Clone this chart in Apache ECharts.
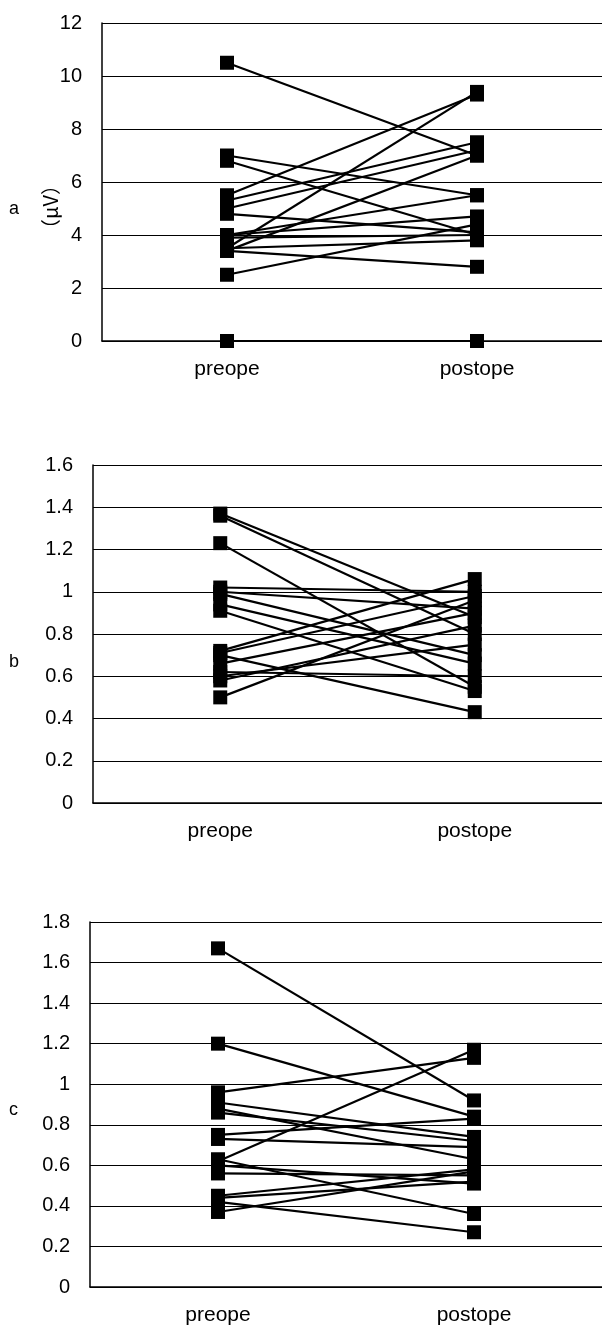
<!DOCTYPE html>
<html>
<head>
<meta charset="utf-8">
<script src="https://cdn.jsdelivr.net/npm/echarts@6/dist/echarts.min.js"></script>
<style>
  html, body { margin: 0; padding: 0; background: #fff; }
  #chart { width: 602px; height: 1337px; }
</style>
</head>
<body>
<div id="chart"></div>
<script>
const categories = ['preope', 'postope']

// panel a (μV)
const preA  = [10.5, 7.0, 6.8, 5.5, 5.3, 5.0, 4.8, 4.0, 4.0, 3.9, 3.5, 3.4, 3.5, 3.4, 2.5, 0]
const postA = [7.0, 5.5, 4.0, 9.3, 7.5, 7.2, 4.1, 4.7, 5.5, 4.0, 9.4, 7.0, 3.8, 2.8, 4.4, 0]

// panel b
const preB  = [1.37, 1.36, 1.23, 1.02, 1.00, 0.99, 0.94, 0.91, 0.72, 0.71, 0.70, 0.66, 0.62, 0.60, 0.58, 0.50]
const postB = [0.88, 0.80, 0.55, 1.00, 0.92, 0.70, 0.66, 0.53, 1.06, 0.98, 0.43, 0.90, 0.60, 0.75, 0.84, 0.96]

// panel c
const preC  = [1.67, 1.20, 0.96, 0.91, 0.88, 0.86, 0.75, 0.73, 0.62, 0.63, 0.60, 0.56, 0.45, 0.37, 0.42, 0.44]
const postC = [0.92, 0.84, 1.13, 0.74, 0.63, 0.72, 0.83, 0.69, 1.17, 0.36, 0.51, 0.55, 0.58, 0.57, 0.27, 0.52]

const panels = [
  {pre: preA, post: postA, max: 12, interval: 2},
  {pre: preB, post: postB, max: 1.6, interval: 0.2},
  {pre: preC, post: postC, max: 1.8, interval: 0.2}
]

const grids = [
  {left: 102, top: 23, right: -8, height: 318},
  {left: 93, top: 465, right: -6, height: 338},
  {left: 90, top: 922, right: -8, height: 365}
]

const chart = echarts.init(document.getElementById('chart'))

const xAxes = []
const yAxes = []
const series = []

panels.forEach((p, i) => {
  xAxes.push({
    type: 'category',
    gridIndex: i,
    data: categories,
    boundaryGap: true,
    axisLine: {lineStyle: {color: '#000', width: 1.5}},
    axisTick: {show: false},
    axisLabel: {color: '#000', fontSize: 21, margin: 18, fontFamily: 'Liberation Sans'}
  })
  yAxes.push({
    type: 'value',
    gridIndex: i,
    min: 0,
    max: p.max,
    interval: p.interval,
    axisLine: {show: true, lineStyle: {color: '#000', width: 1.5}},
    axisTick: {show: false},
    axisLabel: {
      color: '#000', fontSize: 20, margin: 20, fontFamily: 'Liberation Sans',
      formatter: v => String(+v.toFixed(1))
    },
    splitLine: {show: true, lineStyle: {color: '#000', width: 1.2}}
  })
  p.pre.forEach((v, k) => {
    series.push({
      type: 'line',
      xAxisIndex: i,
      yAxisIndex: i,
      data: [v, p.post[k]],
      symbol: 'rect',
      symbolSize: 14,
      showSymbol: true,
      animation: false,
      lineStyle: {color: '#000', width: 2.2},
      itemStyle: {color: '#000'}
    })
  })
})

chart.setOption({
  backgroundColor: '#fff',
  animation: false,
  grid: grids,
  xAxis: xAxes,
  yAxis: yAxes,
  series: series,
  graphic: [
    {type: 'text', left: 9, top: 200, style: {text: 'a', fontSize: 18, fill: '#000', fontFamily: 'Liberation Sans'}},
    {type: 'text', left: 9, top: 653, style: {text: 'b', fontSize: 18, fill: '#000', fontFamily: 'Liberation Sans'}},
    {type: 'text', left: 9, top: 1101, style: {text: 'c', fontSize: 18, fill: '#000', fontFamily: 'Liberation Sans'}},
    {
      type: 'text', x: 50, y: 207, rotation: Math.PI / 2,
      style: {text: '（μV）', fontSize: 20, fill: '#000', fontFamily: 'Noto Sans CJK JP', align: 'center', verticalAlign: 'middle'}
    }
  ]
})
</script>
</body>
</html>
